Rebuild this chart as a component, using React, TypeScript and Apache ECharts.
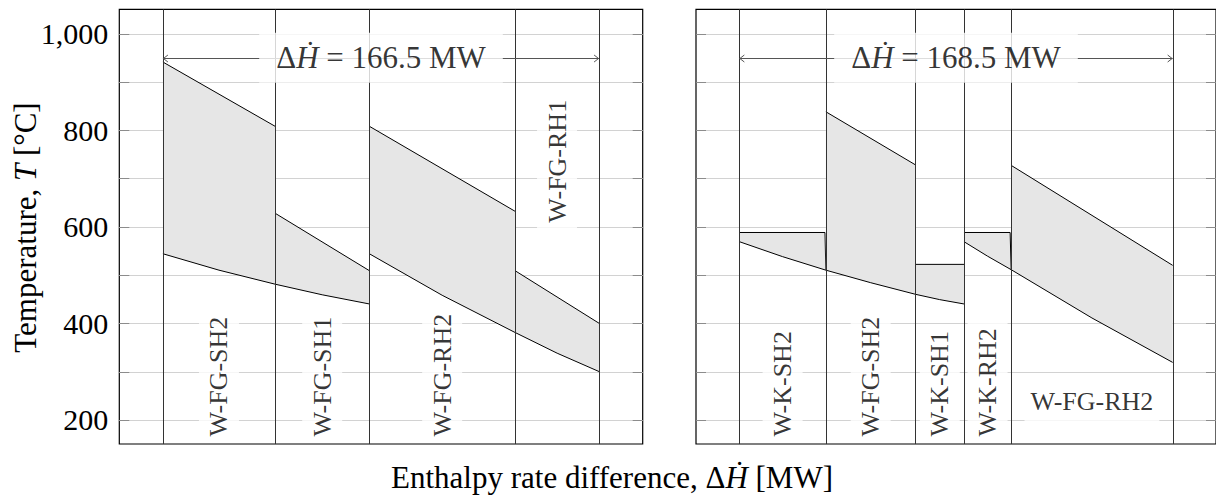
import React, { useEffect, useRef } from 'react';
import * as echarts from 'echarts';

const FONT = '"Liberation Serif", "DejaVu Serif", serif';

// ---- axes ----
const yMin = 150;
const yMax = 1050;
const yGridTicks = [200, 300, 400, 500, 600, 700, 800, 900, 1000];

// ---- totals (MW) ----
const totals = [166.5, 168.5];
const totalLabels = ['166.5', '168.5'];
const arrowT = 950;

// ---- segment boundaries (MW) ----
const leftBounds = [0, 42.8, 78.8, 134.4, 166.5];
const rightBounds = [0, 33.65, 68.5, 87.35, 105.7, 168.5];

// ---- left panel profiles [MW, °C] ----
const L_SH2_hot = [[0, 941], [42.8, 808]];
const L_SH2_cold = [[0, 544], [21.4, 510], [42.8, 481]];
const L_SH1_hot = [[42.8, 628], [78.8, 509]];
const L_SH1_cold = [[42.8, 481], [60.8, 459], [78.8, 440]];
const L_RH2_hot = [[78.8, 808], [134.4, 632]];
const L_RH2_cold = [[78.8, 544], [106.6, 458], [134.4, 381]];
const L_RH1_hot = [[134.4, 509], [166.5, 400]];
const L_RH1_cold = [[134.4, 381], [150.5, 338], [166.5, 300]];

// ---- right panel profiles [MW, °C] ----
const R_KSH2_hot = [[0, 588], [33.3, 588], [33.65, 510]];
const R_KSH2_cold = [[0, 569], [16.8, 538], [33.65, 510]];
const R_FGSH2_hot = [[33.65, 838], [68.5, 728]];
const R_FGSH2_cold = [[33.65, 510], [51.1, 484], [68.5, 460]];
const R_KSH1_hot = [[68.5, 522], [87.35, 522]];
const R_KSH1_cold = [[68.5, 460], [77.9, 449], [87.35, 440]];
const R_KRH2_hot = [[87.35, 588], [105.3, 588], [105.7, 511]];
const R_KRH2_cold = [[87.35, 569], [96.5, 539], [105.7, 511]];
const R_FGRH2_hot = [[105.7, 727], [168.5, 520]];
const R_FGRH2_cold = [[105.7, 511], [137.1, 411], [168.5, 319]];

// ---- labels ----
const leftLabels = ['W-FG-SH2', 'W-FG-SH1', 'W-FG-RH2', 'W-FG-RH1'];
const rightLabels = ['W-K-SH2', 'W-FG-SH2', 'W-K-SH1', 'W-K-RH2', 'W-FG-RH2'];
const leftLabelAnchorT = [153, 153, 153, 596];
const rightLabelAnchorT = [153, 153, 153, 153, 237];
const leftLabelRotate = [90, 90, 90, 90];
const rightLabelRotate = [90, 90, 90, 90, 0];

const panels = [
  {
    bounds: leftBounds,
    segs: [
      { hot: L_SH2_hot, cold: L_SH2_cold },
      { hot: L_SH1_hot, cold: L_SH1_cold },
      { hot: L_RH2_hot, cold: L_RH2_cold },
      { hot: L_RH1_hot, cold: L_RH1_cold },
    ],
    labels: leftLabels,
    labelT: leftLabelAnchorT,
    labelRot: leftLabelRotate,
  },
  {
    bounds: rightBounds,
    segs: [
      { hot: R_KSH2_hot, cold: R_KSH2_cold },
      { hot: R_FGSH2_hot, cold: R_FGSH2_cold },
      { hot: R_KSH1_hot, cold: R_KSH1_cold },
      { hot: R_KRH2_hot, cold: R_KRH2_cold },
      { hot: R_FGRH2_hot, cold: R_FGRH2_cold },
    ],
    labels: rightLabels,
    labelT: rightLabelAnchorT,
    labelRot: rightLabelRotate,
  },
];

const crisp = (v: number) => Math.round(v) + 0.5;

function buildOption() {
  const grids = [
    { left: 119.3, top: 9.4, width: 523.4, height: 434.6 },
    { left: 696, top: 9.4, width: 523.4, height: 434.6 },
  ].map((g) => ({ ...g, show: true, borderColor: '#000', borderWidth: 1.2, backgroundColor: 'transparent', containLabel: false }));

  const xAxes = totals.map((t, i) => ({
    type: 'value',
    gridIndex: i,
    min: -0.1 * t,
    max: 1.1 * t,
    show: false,
  }));

  const yAxes = [0, 1].map((i) => ({
    type: 'value',
    gridIndex: i,
    min: yMin,
    max: yMax,
    interval: 50,
    axisLine: { show: false },
    axisTick: { show: false },
    splitLine: { show: false },
    axisLabel: {
      show: i === 0,
      margin: 11,
      color: '#000',
      fontSize: 30,
      fontFamily: FONT,
      formatter: (v: number) => (v % 200 === 0 ? v.toLocaleString('en-US') : ''),
    },
  }));

  const series: any[] = [];
  panels.forEach((p, i) => {
    // grid lines + ticks
    series.push({
      type: 'custom',
      xAxisIndex: i,
      yAxisIndex: i,
      z: 1,
      silent: true,
      data: yGridTicks.map((v) => [0, v]),
      renderItem: (params: any, api: any) => {
        const cs = params.coordSys;
        const y = crisp(api.coord([0, api.value(1)])[1]);
        return {
          type: 'group',
          children: [
            { type: 'line', shape: { x1: cs.x, y1: y, x2: cs.x + cs.width, y2: y }, style: { stroke: '#d2d2d2', lineWidth: 1 } },
            { type: 'line', shape: { x1: cs.x, y1: y, x2: cs.x + 10, y2: y }, style: { stroke: '#8c8c8c', lineWidth: 1 } },
            { type: 'line', shape: { x1: cs.x + cs.width - 10, y1: y, x2: cs.x + cs.width, y2: y }, style: { stroke: '#8c8c8c', lineWidth: 1 } },
          ],
        };
      },
    });
    // fills + profile lines
    series.push({
      type: 'custom',
      xAxisIndex: i,
      yAxisIndex: i,
      z: 2,
      silent: true,
      data: p.segs.map((_s, k) => [k]),
      renderItem: (_params: any, api: any) => {
        const seg = p.segs[api.value(0)];
        const up = seg.hot.map((pt) => api.coord(pt));
        const lo = seg.cold.map((pt) => api.coord(pt));
        return {
          type: 'group',
          children: [
            { type: 'polygon', shape: { points: [...up, ...lo.slice().reverse()] }, style: { fill: '#e6e6e6', stroke: 'none' } },
            { type: 'polyline', shape: { points: up }, style: { stroke: '#000', lineWidth: 1, fill: 'none' } },
            { type: 'polyline', shape: { points: lo }, style: { stroke: '#000', lineWidth: 1, fill: 'none' } },
          ],
        };
      },
    });
    // boundary vertical lines
    series.push({
      type: 'custom',
      xAxisIndex: i,
      yAxisIndex: i,
      z: 3,
      silent: true,
      data: p.bounds.map((b) => [b]),
      renderItem: (params: any, api: any) => {
        const cs = params.coordSys;
        const x = crisp(api.coord([api.value(0), 500])[0]);
        return { type: 'line', shape: { x1: x, y1: cs.y, x2: x, y2: cs.y + cs.height }, style: { stroke: '#333', lineWidth: 1 } };
      },
    });
    // dimension arrow
    series.push({
      type: 'custom',
      xAxisIndex: i,
      yAxisIndex: i,
      z: 4,
      silent: true,
      data: [[0]],
      renderItem: (_params: any, api: any) => {
        const a = api.coord([0, arrowT]);
        const b = api.coord([totals[i], arrowT]);
        const y = crisp(a[1]);
        const st = { stroke: '#555', lineWidth: 1, fill: 'none' };
        return {
          type: 'group',
          children: [
            { type: 'line', shape: { x1: a[0], y1: y, x2: b[0], y2: y }, style: st },
            { type: 'polyline', shape: { points: [[a[0] + 5, y - 3.5], [a[0] + 0.5, y], [a[0] + 5, y + 3.5]] }, style: st },
            { type: 'polyline', shape: { points: [[b[0] - 5, y - 3.5], [b[0] - 0.5, y], [b[0] - 5, y + 3.5]] }, style: st },
          ],
        };
      },
    });
    // labels
    const labelData: any[] = p.labels.map((name, k) => {
      const mid = (p.bounds[k] + p.bounds[k + 1]) / 2;
      const rot = p.labelRot[k];
      return {
        value: [mid, p.labelT[k]],
        label: {
          formatter: name,
          rotate: rot,
          align: rot === 90 ? 'left' : 'center',
          verticalAlign: 'middle',
        },
      };
    });
    labelData.push({
      value: [totals[i] / 2, arrowT],
      label: {
        formatter: `{n|Δ}{i|Ḣ}{n| = ${totalLabels[i]} MW}`,
        rotate: 0,
        align: 'center',
        verticalAlign: 'middle',
        padding: [10, 17],
        rich: {
          n: { fontSize: 31, fontFamily: FONT, color: '#000', lineHeight: 30 },
          i: { fontSize: 31, fontFamily: FONT, fontStyle: 'italic', color: '#000', lineHeight: 30 },
        },
      },
    });
    series.push({
      type: 'scatter',
      xAxisIndex: i,
      yAxisIndex: i,
      z: 10,
      silent: true,
      symbolSize: 0,
      data: labelData,
      label: {
        show: true,
        position: 'inside',
        color: '#000',
        fontSize: 26,
        fontFamily: FONT,
        lineHeight: 30,
        backgroundColor: '#fff',
        padding: [5, 6],
      },
      emphasis: { disabled: true },
    });
  });

  return {
    animation: false,
    backgroundColor: '#fff',
    textStyle: { fontFamily: FONT },
    grid: grids,
    xAxis: xAxes,
    yAxis: yAxes,
    series,
    graphic: [
      {
        type: 'text',
        x: 612,
        y: 477,
        silent: true,
        style: {
          text: 'Enthalpy rate difference, {n|Δ}{i|Ḣ} [MW]',
          font: `31px ${FONT}`,
          fill: '#000',
          align: 'center',
          verticalAlign: 'middle',
          rich: {
            n: { fontSize: 31, fontFamily: FONT, fill: '#000' },
            i: { fontSize: 31, fontFamily: FONT, fontStyle: 'italic', fill: '#000' },
          },
        },
      },
      {
        type: 'text',
        x: 25,
        y: 227.5,
        rotation: Math.PI / 2,
        silent: true,
        style: {
          text: 'Temperature, {i|T} [°C]',
          font: `31px ${FONT}`,
          fill: '#000',
          align: 'center',
          verticalAlign: 'middle',
          rich: {
            i: { fontSize: 31, fontFamily: FONT, fontStyle: 'italic', fill: '#000' },
          },
        },
      },
    ],
  };
}

export default function App() {
  const ref = useRef<HTMLDivElement>(null);
  useEffect(() => {
    if (!ref.current) return;
    const chart = echarts.init(ref.current, null, { renderer: 'svg' });
    chart.setOption(buildOption() as any);
    return () => chart.dispose();
  }, []);
  return (
    <div
      ref={ref}
      style={{ position: 'fixed', left: 0, top: 0, width: 1216, height: 496, background: '#fff' }}
    />
  );
}
